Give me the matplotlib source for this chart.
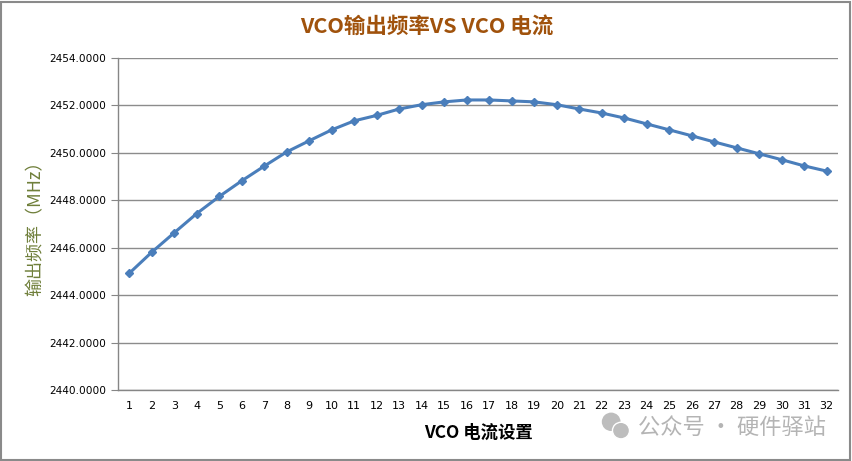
import matplotlib.pyplot as plt
from matplotlib.patches import Rectangle, Ellipse

plt.rcParams['font.family'] = ['Noto Sans CJK SC', 'DejaVu Sans']

# VCO current setting (1..32) vs output frequency (MHz)
settings = list(range(1, 33))
freq_mhz = [2444.92, 2445.81, 2446.63, 2447.44, 2448.16, 2448.82, 2449.44, 2450.04,
            2450.51, 2450.97, 2451.35, 2451.58, 2451.85, 2452.03, 2452.15, 2452.23,
            2452.23, 2452.19, 2452.15, 2452.03, 2451.85, 2451.68, 2451.47, 2451.22,
            2450.97, 2450.72, 2450.46, 2450.21, 2449.96, 2449.71, 2449.45, 2449.23]
y_ticks = [2440, 2442, 2444, 2446, 2448, 2450, 2452, 2454]

title = "VCO输出频率VS VCO 电流"
x_label = "VCO 电流设置"
y_label = "输出频率（MHz）"
watermark = "公众号 · 硬件驿站"

fig = plt.figure(figsize=(8.53, 4.61), dpi=100)
ax = fig.add_axes([0.1383, 0.154, 0.8441, 0.7202])

ax.plot(settings, freq_mhz, color='#4a7ebb', linewidth=2.2, marker='D',
        markersize=4.5, markerfacecolor='#4a7ebb', markeredgecolor='#4a7ebb', zorder=3)

ax.set_xlim(0.5, 32.5)
ax.set_ylim(2440, 2454)
ax.set_xticks(settings)
ax.set_xticklabels([str(s) for s in settings], fontsize=8, family='DejaVu Sans')
ax.set_yticks(y_ticks)
ax.set_yticklabels([f"{v:.4f}" for v in y_ticks], fontsize=7.6, family='DejaVu Sans')
ax.tick_params(axis='x', length=0, pad=8)
ax.tick_params(axis='y', length=5, color='#868686', direction='out')

ax.grid(axis='y', color='#8c8c8c', linewidth=1)
ax.set_axisbelow(True)
for side in ['top', 'right']:
    ax.spines[side].set_visible(False)
for side in ['left', 'bottom']:
    ax.spines[side].set_color('#868686')
    ax.spines[side].set_linewidth(1)

ax.set_xlabel(x_label, fontsize=12.5, fontweight='bold', color='black', labelpad=9)
ax.set_ylabel(y_label, fontsize=13, color='#6f7f3a', labelpad=3)

fig.text(0.5, 0.944, title, ha='center', va='center', fontsize=15.5,
         fontweight='bold', color='#a0520c')

# watermark
fig.text(0.748, 0.073, watermark, ha='left', va='center', fontsize=16, color='#b4b4b4')
fig.patches.append(Ellipse((0.7165, 0.085), 0.022, 0.040, transform=fig.transFigure,
                           facecolor='#bdbdbd', edgecolor='none'))
fig.patches.append(Ellipse((0.728, 0.066), 0.020, 0.036, transform=fig.transFigure,
                           facecolor='#bdbdbd', edgecolor='white', linewidth=1))

# chart border
fig.patches.append(Rectangle((0.001, 0.002), 0.996, 0.994, transform=fig.transFigure,
                             fill=False, edgecolor='#8a8a8a', linewidth=1.5))

fig.savefig('out.png', dpi=100)
